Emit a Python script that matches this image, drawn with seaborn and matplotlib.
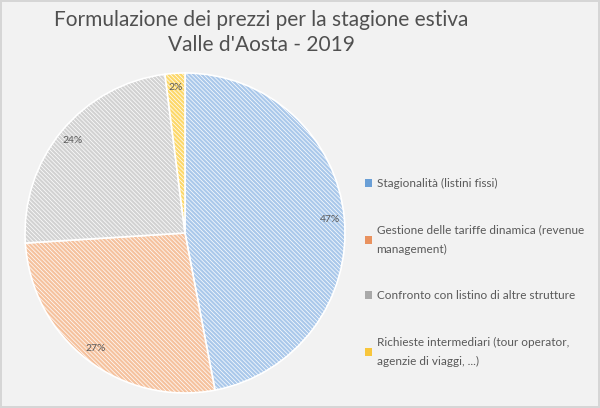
"""
Pie chart: pricing strategy for the summer season, Valle d'Aosta 2019.
"""
import matplotlib
matplotlib.use('Agg')
import matplotlib.pyplot as plt
import seaborn as sns

categories = [
    'Stagionalità (listini fissi)',
    'Gestione delle tariffe dinamica (revenue\nmanagement)',
    'Confronto con listino di altre strutture',
    'Richieste intermediari (tour operator,\nagenzie di viaggi, ...)',
]
shares = [47, 27, 24, 2]
colors = ['#aac8ea', '#f5c29e', '#d2d2d2', '#fcd86a']
legend_colors = ['#6a9fd6', '#e9925f', '#a9a9a9', '#f8c63c']
title = "Formulazione dei prezzi per la stagione estiva\nValle d'Aosta - 2019"

sns.set_theme(style='white')
plt.rcParams['font.family'] = ['Lato', 'DejaVu Sans']
plt.rcParams['hatch.linewidth'] = 0.5

fig = plt.figure(figsize=(6, 4.08), dpi=100, facecolor='#f2f2f2')
fig.patch.set_edgecolor('#d6d6d6')
fig.patch.set_linewidth(1.5)

ax = fig.add_axes([0.0417, 0.0368, 0.5333, 0.7843])
ax.set_facecolor('none')

wedges, texts, autotexts = ax.pie(
    shares, colors=colors, startangle=90, counterclock=False,
    autopct='%1.0f%%', pctdistance=0.91,
    wedgeprops=dict(edgecolor='white', linewidth=1.2, hatch='\\' * 8),
    textprops=dict(fontsize=7.5, color='#5a5a5a'),
)
ax.set_xlim(-1, 1)
ax.set_ylim(-1, 1)
ax.set_aspect('equal')

fig.suptitle(title, x=0.435, y=0.975, fontsize=15, color='#505050',
             linespacing=1.3)

leg = fig.legend(wedges, categories, loc='upper left', bbox_to_anchor=(0.6, 0.575),
                 frameon=False, fontsize=8.5, labelcolor='#595959',
                 handlelength=0.6, handleheight=0.6, handletextpad=0.4,
                 labelspacing=3.0, borderaxespad=0)
for h, c in zip(leg.legend_handles, legend_colors):
    h.set_hatch(None)
    h.set_facecolor(c)
    h.set_edgecolor('none')
for t in leg.get_texts():
    t.set_linespacing(1.9)

fig.savefig('out.png', dpi=100, facecolor=fig.get_facecolor(),
            edgecolor=fig.get_edgecolor())
